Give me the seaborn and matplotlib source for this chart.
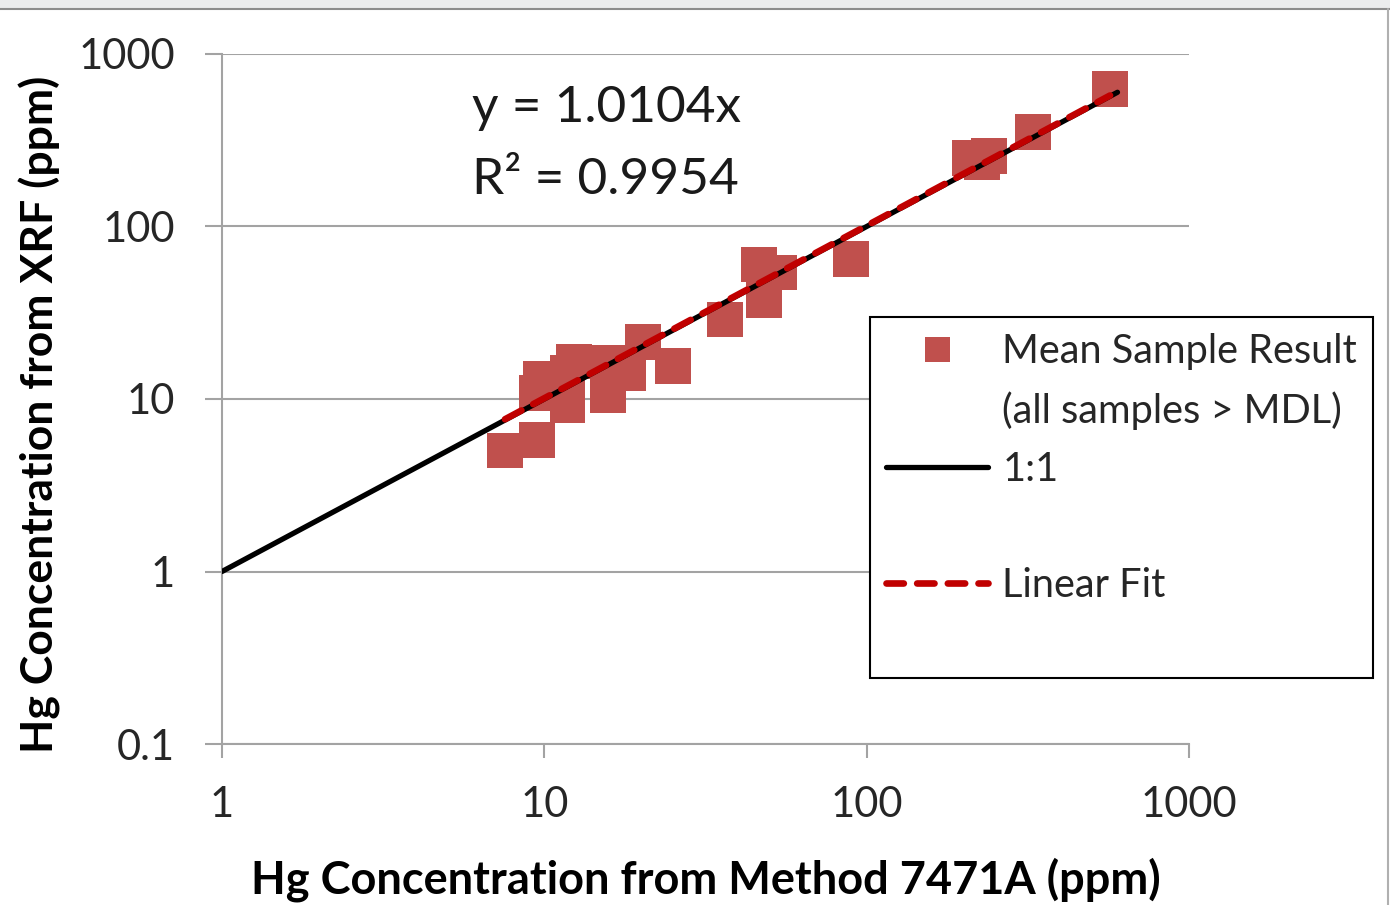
''' XRF vs Method 7471A Hg scatter, log-log '''

import numpy as np
import matplotlib
matplotlib.use('Agg')
import matplotlib.pyplot as plt
import seaborn as sns
import pandas as pd
from matplotlib.lines import Line2D
from matplotlib.patches import Rectangle

# mean sample results (ppm)
method_7471a = [7.55, 9.49, 9.77, 9.49, 12.4, 11.8, 11.8, 15.8, 15.7, 18.2, 20.2,
                25.1, 36.4, 46.4, 48.0, 53.5, 89.5, 209, 240, 228, 328, 569]
xrf = [5.03, 5.75, 13.1, 10.9, 16.5, 14.2, 9.17, 10.5, 16.1, 14.1, 21.5,
       15.6, 28.9, 60.2, 37.7, 54.1, 64.4, 251, 255, 235, 351, 623]

slope = 1.0104
r2 = 0.9954
one_to_one = [1, 600]

x_ticks = [1, 10, 100, 1000]
x_tick_labels = ['1', '10', '100', '1000']
y_ticks = [0.1, 1, 10, 100, 1000]
y_tick_labels = ['0.1', '1', '10', '100', '1000']

sns.set_style('white')
plt.rcParams['font.family'] = ['Lato', 'DejaVu Sans']

df = pd.DataFrame({'method': method_7471a, 'xrf': xrf})
fit_x = np.array([min(method_7471a), max(method_7471a)])
fit_df = pd.DataFrame({'x': fit_x, 'y': slope * fit_x})
ref_df = pd.DataFrame({'x': one_to_one, 'y': one_to_one})

fig = plt.figure(figsize=(13.9, 9.05), dpi=100)
ax = fig.add_axes([222/1390, 1 - 744/905, (1189-222)/1390, (744-54)/905])

grey = '#a3a3a3'
red = '#c0504d'

sns.scatterplot(data=df, x='method', y='xrf', ax=ax, marker='s', s=670,
                color=red, edgecolor='none', zorder=2, legend=False)
sns.lineplot(data=ref_df, x='x', y='y', ax=ax, color='black', lw=3.8,
             zorder=3, legend=False)
sns.lineplot(data=fit_df, x='x', y='y', ax=ax, color='#c00000', lw=4.8,
             zorder=4, legend=False, dashes=False)
ax.lines[-1].set_dashes((2.8, 2.0))
ax.lines[-1].set_dash_capstyle('round')

ax.set_xscale('log')
ax.set_yscale('log')
ax.set_xlim(1, 1000)
ax.set_ylim(0.1, 1000)
ax.set_xticks(x_ticks)
ax.set_xticklabels(x_tick_labels)
ax.set_yticks(y_ticks)
ax.set_yticklabels(y_tick_labels)
ax.minorticks_off()

ax.grid(axis='y', color=grey, lw=1.5)
ax.grid(axis='x', visible=False)
ax.set_axisbelow(True)
for side in ['top', 'right']:
    ax.spines[side].set_visible(False)
for side in ['left', 'bottom']:
    ax.spines[side].set_color(grey)
    ax.spines[side].set_linewidth(1.5)

ax.tick_params(axis='x', direction='out', length=10, width=1.5, color=grey,
               labelsize=30, pad=20, labelcolor='#262626', bottom=True)
ax.tick_params(axis='y', direction='out', length=12, width=1.5, color=grey,
               labelsize=30, pad=22, labelcolor='#262626', left=True)

ax.set_xlabel('Hg Concentration from Method 7471A (ppm)', fontsize=32.5,
              fontweight='bold', color='black', va='center')
ax.set_ylabel('Hg Concentration from XRF (ppm)', fontsize=32,
              fontweight='bold', color='black', va='center')
ax.xaxis.set_label_coords(0.5, -0.197)
ax.yaxis.set_label_coords(-0.188, 0.477)

ax.text(0.2585, 0.922, 'y = %.4fx' % slope, transform=ax.transAxes,
        fontsize=37, va='center', ha='left', color='#1a1a1a')
ax.text(0.2585, 0.817, 'R² = %.4f' % r2, transform=ax.transAxes,
        fontsize=37, va='center', ha='left', color='#1a1a1a')

# legend: blank handles keep the rows spaced like the original
blank = Line2D([], [], linestyle='none')
h_pts = Line2D([], [], linestyle='none', marker='s', markersize=18,
               color=red, markeredgewidth=0)
h_ref = Line2D([], [], color='black', lw=3.8)
h_fit = Line2D([], [], color='#c00000', lw=4.8, dashes=(2.6, 2.0),
               dash_capstyle='round')
leg = fig.legend([h_pts, blank, h_ref, blank, h_fit, blank],
                 ['Mean Sample Result', '(all samples > MDL)', '1:1', '', 'Linear Fit', ''],
                 loc='upper left', bbox_to_anchor=(870/1390, 1 - 317/905),
                 bbox_transform=fig.transFigure, fontsize=28.6, frameon=True,
                 fancybox=False, edgecolor='black', framealpha=1,
                 handlelength=2.58, handletextpad=0.35, labelspacing=0.53,
                 borderpad=0.4, borderaxespad=0)
leg.get_frame().set_linewidth(1.5)
for t in leg.get_texts():
    t.set_color('#262626')

# strip of the window above the chart
fig.add_artist(Rectangle((0, 1 - 8/905), 1, 8/905, transform=fig.transFigure,
                         color='#ebeced', zorder=0))
fig.add_artist(Line2D([0, 1], [1 - 9/905, 1 - 9/905], transform=fig.transFigure,
                      color='#8c8c8c', lw=1.5))
fig.add_artist(Line2D([1388/1390, 1388/1390], [0, 1 - 9/905], transform=fig.transFigure,
                      color='#b0b0b0', lw=1.5))

plt.savefig('out.png', dpi=100)
plt.close('all')
